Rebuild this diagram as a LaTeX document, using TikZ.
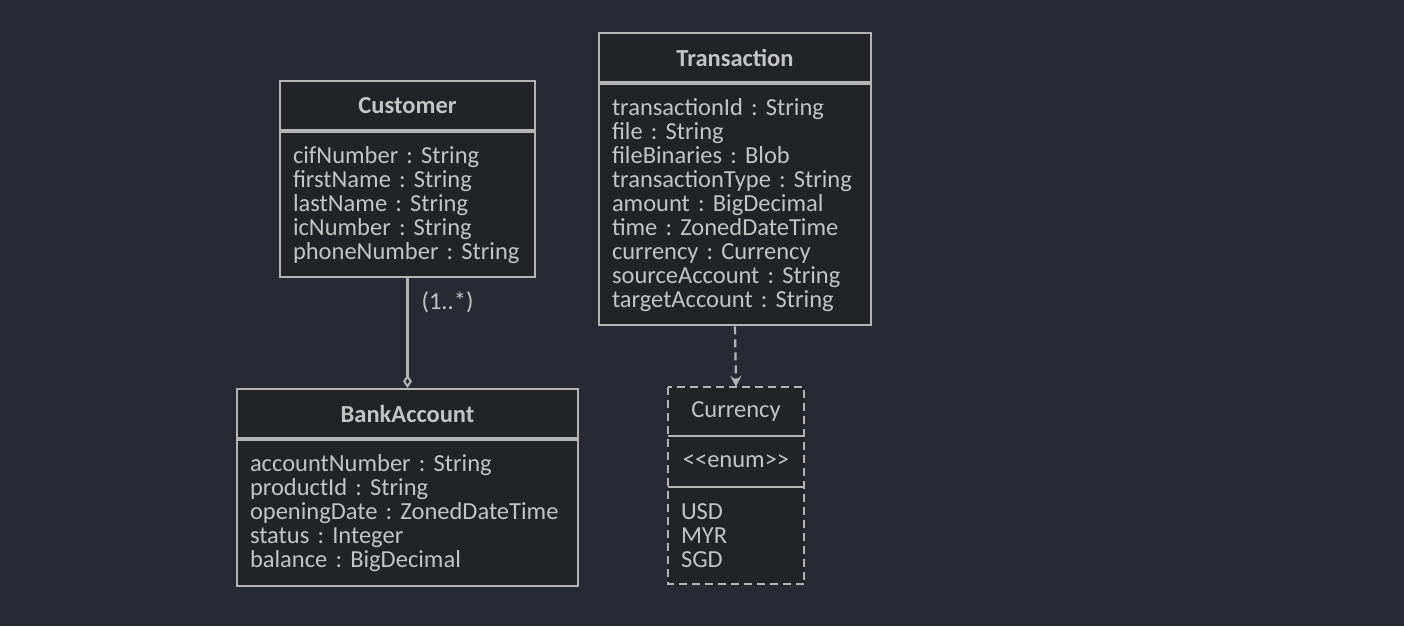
\documentclass[tikz,border=0pt]{standalone}
\usepackage{fontspec}
\setmainfont{Carlito}
\usetikzlibrary{positioning,arrows.meta}
\definecolor{bgc}{HTML}{282A33}
\definecolor{boxc}{HTML}{222327}
\definecolor{linec}{HTML}{B4B4B4}
\definecolor{txtc}{HTML}{C4C4C4}
\frenchspacing

\begin{document}
\begin{tikzpicture}[x=1pt,y=-1pt,
    classhead/.style={draw=linec, fill=boxc, text=txtc, line width=2.2pt,
        font=\fontsize{24.5}{24}\selectfont\bfseries, minimum height=49pt, inner sep=0pt},
    classbody/.style={draw=linec, fill=boxc, text=txtc, line width=2.2pt,
        font=\fontsize{24.5}{24}\selectfont, align=left, inner xsep=13pt, inner ysep=0pt},
    enumpart/.style={fill=boxc, text=txtc, font=\fontsize{24.5}{24}\selectfont,
        minimum width=136pt, inner sep=0pt},
    assoc/.style={draw=linec, line width=2.2pt},
    depend/.style={draw=linec, line width=2.2pt, dash pattern=on 8pt off 5pt},
]
\useasboundingbox (0,0) rectangle (1404,626);
\fill[bgc] (0,0) rectangle (1404,626);

% Customer
\node[classhead, minimum width=255pt] (cust) at (407.5,105.5) {Customer};
\node[classbody, text width=229pt, minimum height=145pt, below=0pt of cust] (custattr)
    {cifNumber : String\\firstName : String\\lastName : String\\icNumber : String\\phoneNumber : String};

% BankAccount
\node[classhead, minimum width=341pt] (bank) at (407.5,413.5) {BankAccount};
\node[classbody, text width=315pt, minimum height=146pt, below=0pt of bank] (bankattr)
    {accountNumber : String\\productId : String\\openingDate : ZonedDateTime\\status : Integer\\balance : BigDecimal};

% Transaction
\node[classhead, minimum width=272pt] (trans) at (735,57.5) {Transaction};
\node[classbody, text width=246pt, minimum height=241pt, below=0pt of trans] (transattr)
    {transactionId : String\\file : String\\fileBinaries : Blob\\transactionType : String\\amount : BigDecimal\\time : ZonedDateTime\\currency : Currency\\sourceAccount : String\\targetAccount : String};

% Currency (enum)
\node[enumpart, minimum height=49pt] (cur) at (736,411.5) {Currency};
\node[enumpart, minimum height=50pt, below=0pt of cur] (curstereo) {{<}{<}enum{>}{>}};
\node[enumpart, minimum height=97pt, align=left, text width=110pt, inner xsep=13pt,
    below=0pt of curstereo] (curvals) {USD\\MYR\\SGD};
\draw[depend] (cur.north west) rectangle (curvals.south east);
\draw[assoc] (cur.south west) -- (cur.south east);
\draw[assoc] (curstereo.south west) -- (curstereo.south east);

% connectors
\draw[assoc, -{Diamond[open, length=13pt, width=9pt, line width=2pt]}] (custattr.south) --
    node[pos=0.22, anchor=west, xshift=13pt, inner sep=0pt, text=txtc,
        font=\fontsize{24.5}{24}\selectfont] (mult) {(1..*)} (bank.north);
\draw[depend, -{Stealth[length=11pt, width=11pt, inset=4pt]}] (transattr.south) -- (cur.north);
\end{tikzpicture}
\end{document}
